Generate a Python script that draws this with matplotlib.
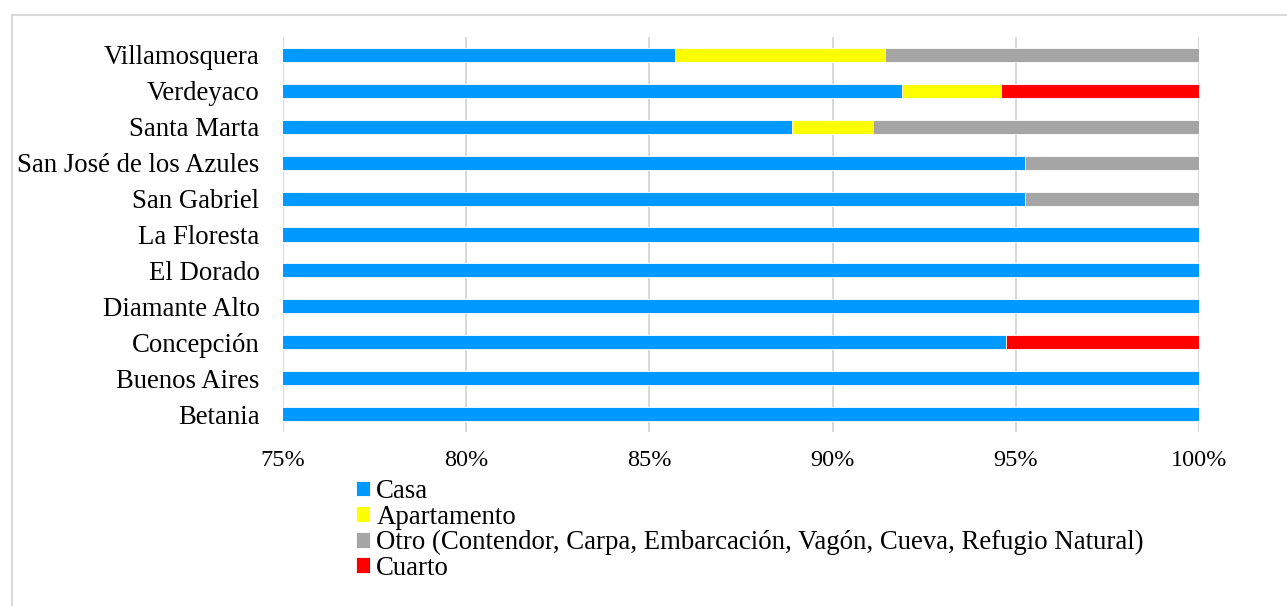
import matplotlib.pyplot as plt
import numpy as np
from matplotlib.lines import Line2D
from matplotlib.ticker import FuncFormatter

plt.rcParams['font.family'] = ['Liberation Serif', 'DejaVu Serif']

# veredas (de abajo hacia arriba)
veredas = ['Betania', 'Buenos Aires', 'Concepción', 'Diamante Alto', 'El Dorado',
           'La Floresta', 'San Gabriel', 'San José de los Azules', 'Santa Marta',
           'Verdeyaco', 'Villamosquera']

casa = [100.0, 100.0, 94.74, 100.0, 100.0, 100.0, 95.24, 95.24, 88.89, 91.89, 85.71]
apartamento = [0, 0, 0, 0, 0, 0, 0, 0, 2.22, 2.70, 5.71]
otro = [0, 0, 0, 0, 0, 0, 4.76, 4.76, 8.89, 0, 8.57]
cuarto = [0, 0, 5.26, 0, 0, 0, 0, 0, 0, 5.41, 0]

series = [
    ('Casa', casa, '#0099FF'),
    ('Apartamento', apartamento, '#FFFF00'),
    ('Otro (Contendor, Carpa, Embarcación, Vagón, Cueva, Refugio Natural)', otro, '#A5A5A5'),
    ('Cuarto', cuarto, '#FF0000'),
]

fig = plt.figure(figsize=(12.87, 6.06), dpi=100)
ax = fig.add_axes([283/1287, 1-432/606, (1199-283)/1287, (432-37)/606])

y = np.arange(len(veredas))
left = np.zeros(len(veredas))
for nombre, vals, color in series:
    vals = np.array(vals, dtype=float)
    ax.barh(y, vals, left=left, height=0.39, color=color, label=nombre,
            edgecolor='white', linewidth=0.6, zorder=3)
    left = left + vals

ax.set_xlim(75, 100)
ax.set_ylim(-0.5, len(veredas) - 0.5)
ax.set_xticks(np.arange(75, 101, 5))
ax.xaxis.set_major_formatter(FuncFormatter(lambda v, p: f'{v:.0f}%'))
ax.set_yticks(y)
ax.set_yticklabels(veredas)
ax.tick_params(axis='both', length=0)
ax.tick_params(axis='x', pad=13, labelsize=17.5)
ax.tick_params(axis='y', pad=17, labelsize=19.3)
ax.grid(axis='x', color='#D9D9D9', linewidth=1.5, zorder=0)
for s in ax.spines.values():
    s.set_visible(False)

ax.legend(loc='upper left', bbox_to_anchor=(356/1287, 1-479/606),
          bbox_transform=fig.transFigure, frameon=False, fontsize=19.3,
          handlelength=0.52, handleheight=0.52, handletextpad=0.24,
          labelspacing=0.02, borderpad=0, borderaxespad=0)

# borde del gráfico
fig.add_artist(Line2D([11.5/1287, 11.5/1287], [0, 1-14.5/606], transform=fig.transFigure,
                      color='#D9D9D9', linewidth=1.5))
fig.add_artist(Line2D([11.5/1287, 1], [1-14.5/606, 1-14.5/606], transform=fig.transFigure,
                      color='#D9D9D9', linewidth=1.5))

fig.savefig('out.png', dpi=100)
